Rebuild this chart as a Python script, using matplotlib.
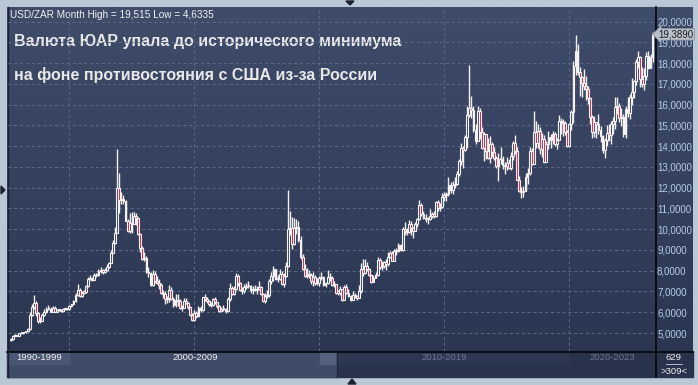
import numpy as np
import matplotlib
matplotlib.use('Agg')
import matplotlib.pyplot as plt
from matplotlib.patches import Rectangle, Polygon

# USD/ZAR monthly candles, Sep 1997 .. May 2023
first_open = 4.66
closes = [
    4.70, 4.87, 4.88, 4.87,
    4.98, 4.98, 5.04, 5.09, 5.17, 5.86, 6.23, 6.45, 5.95, 5.60, 5.60, 5.86,
    6.03, 6.15, 6.18, 6.03, 6.20, 6.03, 6.11, 6.10, 6.06, 6.15, 6.14, 6.16,
    6.30, 6.38, 6.55, 6.85, 7.05, 6.80, 6.95, 6.98, 7.25, 7.60, 7.60, 7.57,
    7.80, 7.80, 8.00, 8.05, 7.95, 8.05, 8.20, 8.35, 8.85, 9.35, 9.80, 12.00,
    11.40, 11.45, 11.38, 10.40, 9.90, 10.28, 10.25, 10.65, 10.55, 9.75, 9.10, 8.58,
    8.62, 7.95, 7.90, 7.30, 7.85, 7.50, 7.40, 7.32, 6.95, 6.90, 6.65, 6.67,
    7.05, 6.63, 6.35, 6.60, 6.55, 6.20, 6.20, 6.55, 6.45, 6.25, 5.85, 5.63,
    5.97, 5.80, 6.22, 6.10, 6.73, 6.65, 6.55, 6.40, 6.36, 6.62, 6.48, 6.32,
    6.05, 6.15, 6.17, 6.05, 6.65, 7.15, 6.90, 7.10, 7.75, 7.40, 7.05, 7.00,
    7.20, 7.25, 7.25, 7.05, 7.05, 7.05, 7.10, 7.20, 6.87, 6.53, 6.80, 6.83,
    7.50, 7.75, 8.10, 7.60, 7.60, 7.85, 7.35, 7.75, 8.25, 10.00, 10.05, 9.30,
    10.05, 10.10, 9.50, 8.65, 8.10, 7.75, 7.80, 7.80, 7.50, 7.70, 7.40, 7.40,
    7.65, 7.70, 7.30, 7.40, 7.70, 7.65, 7.30, 7.35, 6.95, 6.95, 7.10, 6.60,
    7.20, 6.95, 6.77, 6.60, 6.85, 6.78, 6.70, 7.00, 8.10, 7.90, 8.25, 8.08,
    7.80, 7.45, 7.67, 7.80, 8.50, 8.17, 8.25, 8.40, 8.30, 8.65, 8.85, 8.48,
    8.95, 8.95, 9.22, 9.00, 10.00, 9.90, 9.85, 10.25, 10.05, 9.90, 10.25, 10.50,
    11.15, 10.75, 10.52, 10.50, 10.50, 10.65, 10.75, 10.65, 11.30, 11.00, 11.05, 11.57,
    11.65, 11.70, 12.15, 11.90, 12.15, 12.20, 12.65, 13.30, 13.90, 13.80, 14.45, 15.50,
    15.85, 15.75, 14.80, 14.25, 15.70, 14.70, 13.90, 14.60, 13.75, 13.45, 14.10, 13.70,
    13.45, 13.05, 13.40, 13.40, 13.10, 13.05, 13.20, 12.95, 13.55, 14.15, 13.75, 12.35,
    11.85, 11.80, 11.83, 12.50, 12.70, 13.75, 13.15, 14.70, 14.15, 14.75, 13.85, 14.35,
    13.25, 14.10, 14.45, 14.30, 14.60, 14.10, 14.30, 15.20, 15.15, 15.10, 14.70, 14.00,
    15.05, 15.65, 17.85, 18.60, 17.55, 17.35, 17.05, 16.90, 16.75, 16.30, 15.40, 14.70,
    15.15, 15.05, 14.80, 14.50, 13.80, 14.30, 14.65, 14.55, 15.05, 15.20, 15.90, 15.95,
    15.35, 15.40, 14.60, 15.80, 15.60, 16.35, 16.60, 17.15, 18.05, 18.30, 17.25, 17.00,
    17.40, 18.35, 17.75, 18.30, 19.389,
]
highs = [
    4.74, 4.90, 4.93, 4.92,
    5.00, 5.02, 5.07, 5.12, 5.25, 6.00, 6.40, 6.85, 6.55, 6.00, 5.75, 5.95,
    6.15, 6.25, 6.35, 6.25, 6.28, 6.30, 6.18, 6.18, 6.15, 6.20, 6.20, 6.22,
    6.35, 6.42, 6.60, 6.95, 7.35, 7.15, 7.00, 7.05, 7.30, 7.70, 7.80, 7.70,
    7.90, 7.90, 8.10, 8.20, 8.10, 8.15, 8.30, 8.40, 9.00, 9.50, 10.10, 13.84,
    12.70, 11.80, 11.65, 11.40, 10.50, 10.80, 10.85, 10.85, 10.80, 10.60, 9.80, 9.20,
    8.90, 8.70, 8.20, 7.95, 8.05, 8.00, 7.75, 7.60, 7.40, 7.05, 7.00, 6.80,
    7.30, 7.20, 6.75, 6.90, 6.90, 6.65, 6.35, 6.70, 6.70, 6.50, 6.30, 5.95,
    6.10, 6.05, 6.30, 6.30, 6.75, 6.90, 6.75, 6.60, 6.50, 6.70, 6.75, 6.50,
    6.35, 6.25, 6.35, 6.20, 6.75, 7.40, 7.25, 7.25, 7.90, 7.85, 7.45, 7.20,
    7.35, 7.40, 7.50, 7.30, 7.25, 7.30, 7.25, 7.50, 7.25, 6.95, 6.95, 7.05,
    7.60, 7.95, 8.25, 8.10, 7.80, 8.10, 8.00, 7.90, 8.40, 11.89, 10.90, 10.60,
    10.55, 10.50, 10.40, 9.65, 8.80, 8.30, 8.15, 8.05, 7.90, 7.95, 7.80, 7.65,
    7.75, 7.95, 7.75, 7.45, 8.05, 7.90, 7.75, 7.50, 7.35, 7.05, 7.25, 7.10,
    7.30, 7.35, 7.10, 6.85, 7.00, 6.95, 6.85, 7.30, 8.35, 8.55, 8.55, 8.40,
    8.15, 7.85, 7.80, 7.95, 8.65, 8.60, 8.45, 8.45, 8.55, 8.90, 8.95, 8.95,
    9.05, 9.10, 9.35, 9.30, 10.10, 10.35, 10.05, 10.45, 10.40, 10.10, 10.35, 10.55,
    11.39, 11.25, 10.90, 10.75, 10.60, 10.95, 10.85, 10.90, 11.35, 11.40, 11.25, 11.75,
    11.80, 11.80, 12.50, 12.25, 12.30, 12.50, 12.80, 13.40, 14.15, 14.00, 14.55, 15.95,
    17.92, 16.40, 15.95, 15.05, 15.95, 15.85, 14.90, 14.70, 14.60, 14.40, 14.50, 14.20,
    13.95, 13.55, 13.65, 13.95, 13.55, 13.25, 13.50, 13.40, 13.70, 14.25, 14.55, 13.95,
    12.55, 12.05, 12.10, 12.70, 12.95, 13.95, 13.90, 15.70, 15.20, 15.05, 14.90, 14.65,
    14.55, 14.25, 14.75, 14.60, 14.75, 14.70, 14.40, 15.50, 15.35, 15.30, 15.20, 14.80,
    15.10, 15.75, 18.10, 19.35, 18.90, 17.80, 17.40, 17.70, 17.40, 16.90, 16.35, 15.50,
    15.45, 15.15, 15.55, 14.95, 14.55, 14.40, 15.00, 15.05, 15.20, 15.40, 16.35, 16.35,
    16.10, 15.85, 15.55, 15.95, 16.35, 16.50, 17.30, 17.20, 18.20, 18.60, 18.35, 17.80,
    17.75, 18.55, 18.60, 18.45, 19.515,
]
lows = [
    4.6335, 4.68, 4.84, 4.84,
    4.85, 4.93, 4.95, 5.00, 5.07, 5.15, 5.80, 6.15, 5.80, 5.50, 5.50, 5.60,
    5.83, 5.95, 6.10, 6.00, 6.02, 6.00, 6.02, 6.05, 6.00, 6.02, 6.10, 6.10,
    6.10, 6.25, 6.35, 6.50, 6.80, 6.75, 6.75, 6.90, 6.95, 7.20, 7.55, 7.50,
    7.55, 7.70, 7.75, 7.90, 7.85, 7.90, 8.00, 8.15, 8.35, 8.85, 9.30, 9.80,
    10.80, 11.20, 11.20, 10.40, 9.85, 9.80, 9.80, 10.30, 10.20, 9.70, 8.90, 8.50,
    8.45, 7.90, 7.70, 7.25, 7.25, 7.40, 7.35, 7.10, 6.90, 6.70, 6.40, 6.45,
    6.50, 6.60, 6.25, 6.25, 6.30, 6.15, 6.05, 6.20, 6.40, 6.15, 5.80, 5.60,
    5.60, 5.70, 5.75, 6.00, 6.05, 6.55, 6.45, 6.30, 6.25, 6.30, 6.40, 6.20,
    6.00, 6.00, 6.05, 5.95, 6.00, 6.55, 6.85, 6.85, 7.05, 7.25, 7.00, 6.90,
    6.95, 7.10, 7.15, 6.95, 6.90, 7.00, 6.90, 7.05, 6.85, 6.50, 6.45, 6.70,
    6.75, 7.35, 7.50, 7.55, 7.45, 7.55, 7.30, 7.20, 7.70, 8.20, 9.70, 9.05,
    9.25, 9.75, 9.40, 8.55, 8.05, 7.70, 7.65, 7.65, 7.35, 7.25, 7.30, 7.30,
    7.25, 7.55, 7.25, 7.20, 7.35, 7.50, 7.25, 7.20, 6.90, 6.85, 6.85, 6.55,
    6.60, 6.90, 6.75, 6.55, 6.60, 6.70, 6.60, 6.70, 6.95, 7.75, 7.85, 8.00,
    7.75, 7.42, 7.45, 7.65, 7.75, 8.10, 8.05, 8.15, 8.05, 8.25, 8.60, 8.45,
    8.50, 8.75, 8.90, 8.95, 8.95, 9.70, 9.70, 9.80, 9.70, 9.60, 9.90, 10.10,
    10.45, 10.65, 10.50, 10.35, 10.25, 10.45, 10.55, 10.55, 10.60, 10.90, 10.90, 11.00,
    11.35, 11.35, 11.60, 11.75, 11.70, 12.00, 12.15, 12.55, 13.10, 12.95, 13.75, 13.90,
    15.40, 15.35, 14.70, 14.10, 14.30, 14.35, 13.85, 13.30, 13.40, 13.40, 13.20, 13.50,
    13.35, 12.95, 12.30, 13.15, 12.90, 12.65, 12.85, 12.90, 12.85, 13.35, 13.60, 12.35,
    11.80, 11.50, 11.55, 11.85, 12.20, 12.60, 13.10, 13.15, 13.90, 13.90, 13.60, 13.50,
    13.20, 13.25, 13.85, 13.90, 14.10, 14.00, 13.85, 14.30, 14.60, 14.50, 14.55, 13.95,
    13.95, 14.80, 15.10, 17.45, 17.45, 16.40, 16.35, 16.70, 16.20, 16.05, 15.05, 14.40,
    14.45, 14.40, 14.60, 14.20, 13.65, 13.41, 14.00, 14.25, 14.10, 14.60, 14.85, 15.55,
    15.15, 14.95, 14.45, 14.40, 15.40, 15.30, 16.00, 16.30, 16.95, 17.75, 16.85, 16.85,
    16.70, 17.20, 17.70, 17.75, 18.05,
]
opens = [first_open] + closes[:-1]

nav_labels = ['1990-1999', '2000-2009', '2010-2019', '2020-2023']
header = 'USD/ZAR Month High = 19,515 Low = 4,6335'
title1 = 'Валюта ЮАР упала до исторического минимума'
title2 = 'на фоне противостояния с США из-за России'

W, H = 698, 385
fig = plt.figure(figsize=(W / 100, H / 100), dpi=100)
fig.patch.set_facecolor('#bac7d5')

# pixel-space background layer
bg = fig.add_axes([0, 0, 1, 1])
bg.set_xlim(0, W)
bg.set_ylim(H, 0)
bg.axis('off')

grad = np.linspace(0, 1, 256).reshape(-1, 1)
top_c = np.array([0x3f, 0x4c, 0x6a]) / 255
bot_c = np.array([0x2b, 0x36, 0x51]) / 255
img = top_c + (bot_c - top_c) * grad[..., None]
img = img.reshape(256, 1, 3)
bg.imshow(img, extent=[7, 693, 351, 7], aspect='auto', zorder=0)

# navigator strip
bg.add_patch(Rectangle((7, 351), 686, 26, color='#28324b', zorder=1))
bg.add_patch(Rectangle((8, 352), 329, 25, color='#3f4c68', zorder=1))
bg.add_patch(Rectangle((8, 352), 61, 12, color='#4a5774', zorder=1))
bg.add_patch(Rectangle((320, 352), 17, 12, color='#55627d', zorder=1))
bg.add_patch(Rectangle((337, 352), 232, 12, color='#2c3751', zorder=1))
bg.plot([337, 337], [352, 377], color='#1f2840', lw=1, zorder=2)
nav_x = [39, 195, 444, 612]
nav_c = ['#f0f0f0', '#f0f0f0', '#6c7892', '#6c7892']
for lx, lab, lc in zip(nav_x, nav_labels, nav_c):
    bg.text(lx, 358, lab, color=lc, fontsize=6.8, ha='center', va='center',
            family='Liberation Sans', zorder=3)
bg.text(674, 357, '629', color='#f0f0f0', fontsize=6.8, ha='center', va='center',
        family='Liberation Sans', zorder=3)
bg.plot([666, 682], [363.5, 363.5], color='#c8d0dc', lw=0.6, zorder=3)
bg.text(674, 371, '>309<', color='#f0f0f0', fontsize=6.8, ha='center', va='center',
        family='Liberation Sans', zorder=3)

# frame lines
bg.plot([655.5, 655.5], [7, 377], color='#050608', lw=1.2, zorder=4)
bg.plot([7, 693], [351.5, 351.5], color='#050608', lw=1.2, zorder=4)
bg.plot([7.5, 7.5], [7, 377], color='#1a2030', lw=1, zorder=4)

# small arrows on the outer frame
bg.add_patch(Polygon([[346, 1], [354, 1], [350, 5]], color='#1c2230', zorder=5))
bg.add_patch(Polygon([[1, 186], [1, 194], [5, 190]], color='#1c2230', zorder=5))
bg.add_patch(Polygon([[348, 384], [356, 384], [352, 379]], color='#1c2230', zorder=5))

# main price axes
ax = fig.add_axes([8 / W, 1 - 351 / H, (655 - 8) / W, (351 - 8) / H])
ax.set_facecolor('none')
n = len(closes)
x = np.arange(n)
ax.set_xlim(-1.43, n + 0.15)
ax.set_ylim(4.133, 20.655)

for s in ax.spines.values():
    s.set_visible(False)
ax.set_xticks([28, 88, 148, 208, 268])
ax.set_xticklabels([])
ax.tick_params(axis='x', length=0)
ax.set_yticks(np.arange(5, 21))
ax.yaxis.tick_right()
ax.set_yticklabels([f'{v:.4f}'.replace('.', ',') for v in np.arange(5, 21)])
ax.tick_params(axis='y', length=0, pad=1.5, labelsize=7.0, labelcolor='#b4cbe6')
for t in ax.get_yticklabels():
    t.set_family('Liberation Sans')
ax.grid(True, color='#5d6b8a', lw=0.7, ls=(0, (3, 3)))
ax.set_axisbelow(True)

o = np.array(opens)
c = np.array(closes)
hi = np.array(highs)
lo = np.array(lows)
down = c < o
ax.vlines(x, lo, hi, color='#f4f0f0', lw=1.0, zorder=2)
body_lo = np.minimum(o, c)
body_h = np.maximum(np.abs(c - o), 0.05)
ax.bar(x[~down], body_h[~down], bottom=body_lo[~down], width=0.85,
       facecolor='#33405c', edgecolor='#f6f2f2', lw=0.8, zorder=3)
ax.bar(x[down], body_h[down], bottom=body_lo[down], width=0.85,
       facecolor='#e3143c', edgecolor='#f6f2f2', lw=0.8, zorder=3)

# last price marker
last = closes[-1]
ax.annotate(f'{last:.4f}'.replace('.', ','), xy=(1.0, last), xycoords=('axes fraction', 'data'),
            xytext=(2.5, 0), textcoords='offset points', ha='left', va='center',
            fontsize=7.0, color='#1a1d24', family='Liberation Sans', zorder=6,
            bbox=dict(boxstyle='larrow,pad=0.08', fc='#b9c0ca', ec='#8a93a0', lw=0.5))

# texts
bg.text(10, 15.5, header, color='#f2f2f2', fontsize=7.2, ha='left', va='center',
        family='Liberation Sans', zorder=6)
bg.text(14, 46, title1, color='#e8e8e8', fontsize=11.5, fontweight='bold',
        ha='left', va='baseline', family='Liberation Sans', zorder=6)
bg.text(14, 80, title2, color='#e8e8e8', fontsize=11.5, fontweight='bold',
        ha='left', va='baseline', family='Liberation Sans', zorder=6)

fig.savefig('out.png', dpi=100, facecolor=fig.get_facecolor())
